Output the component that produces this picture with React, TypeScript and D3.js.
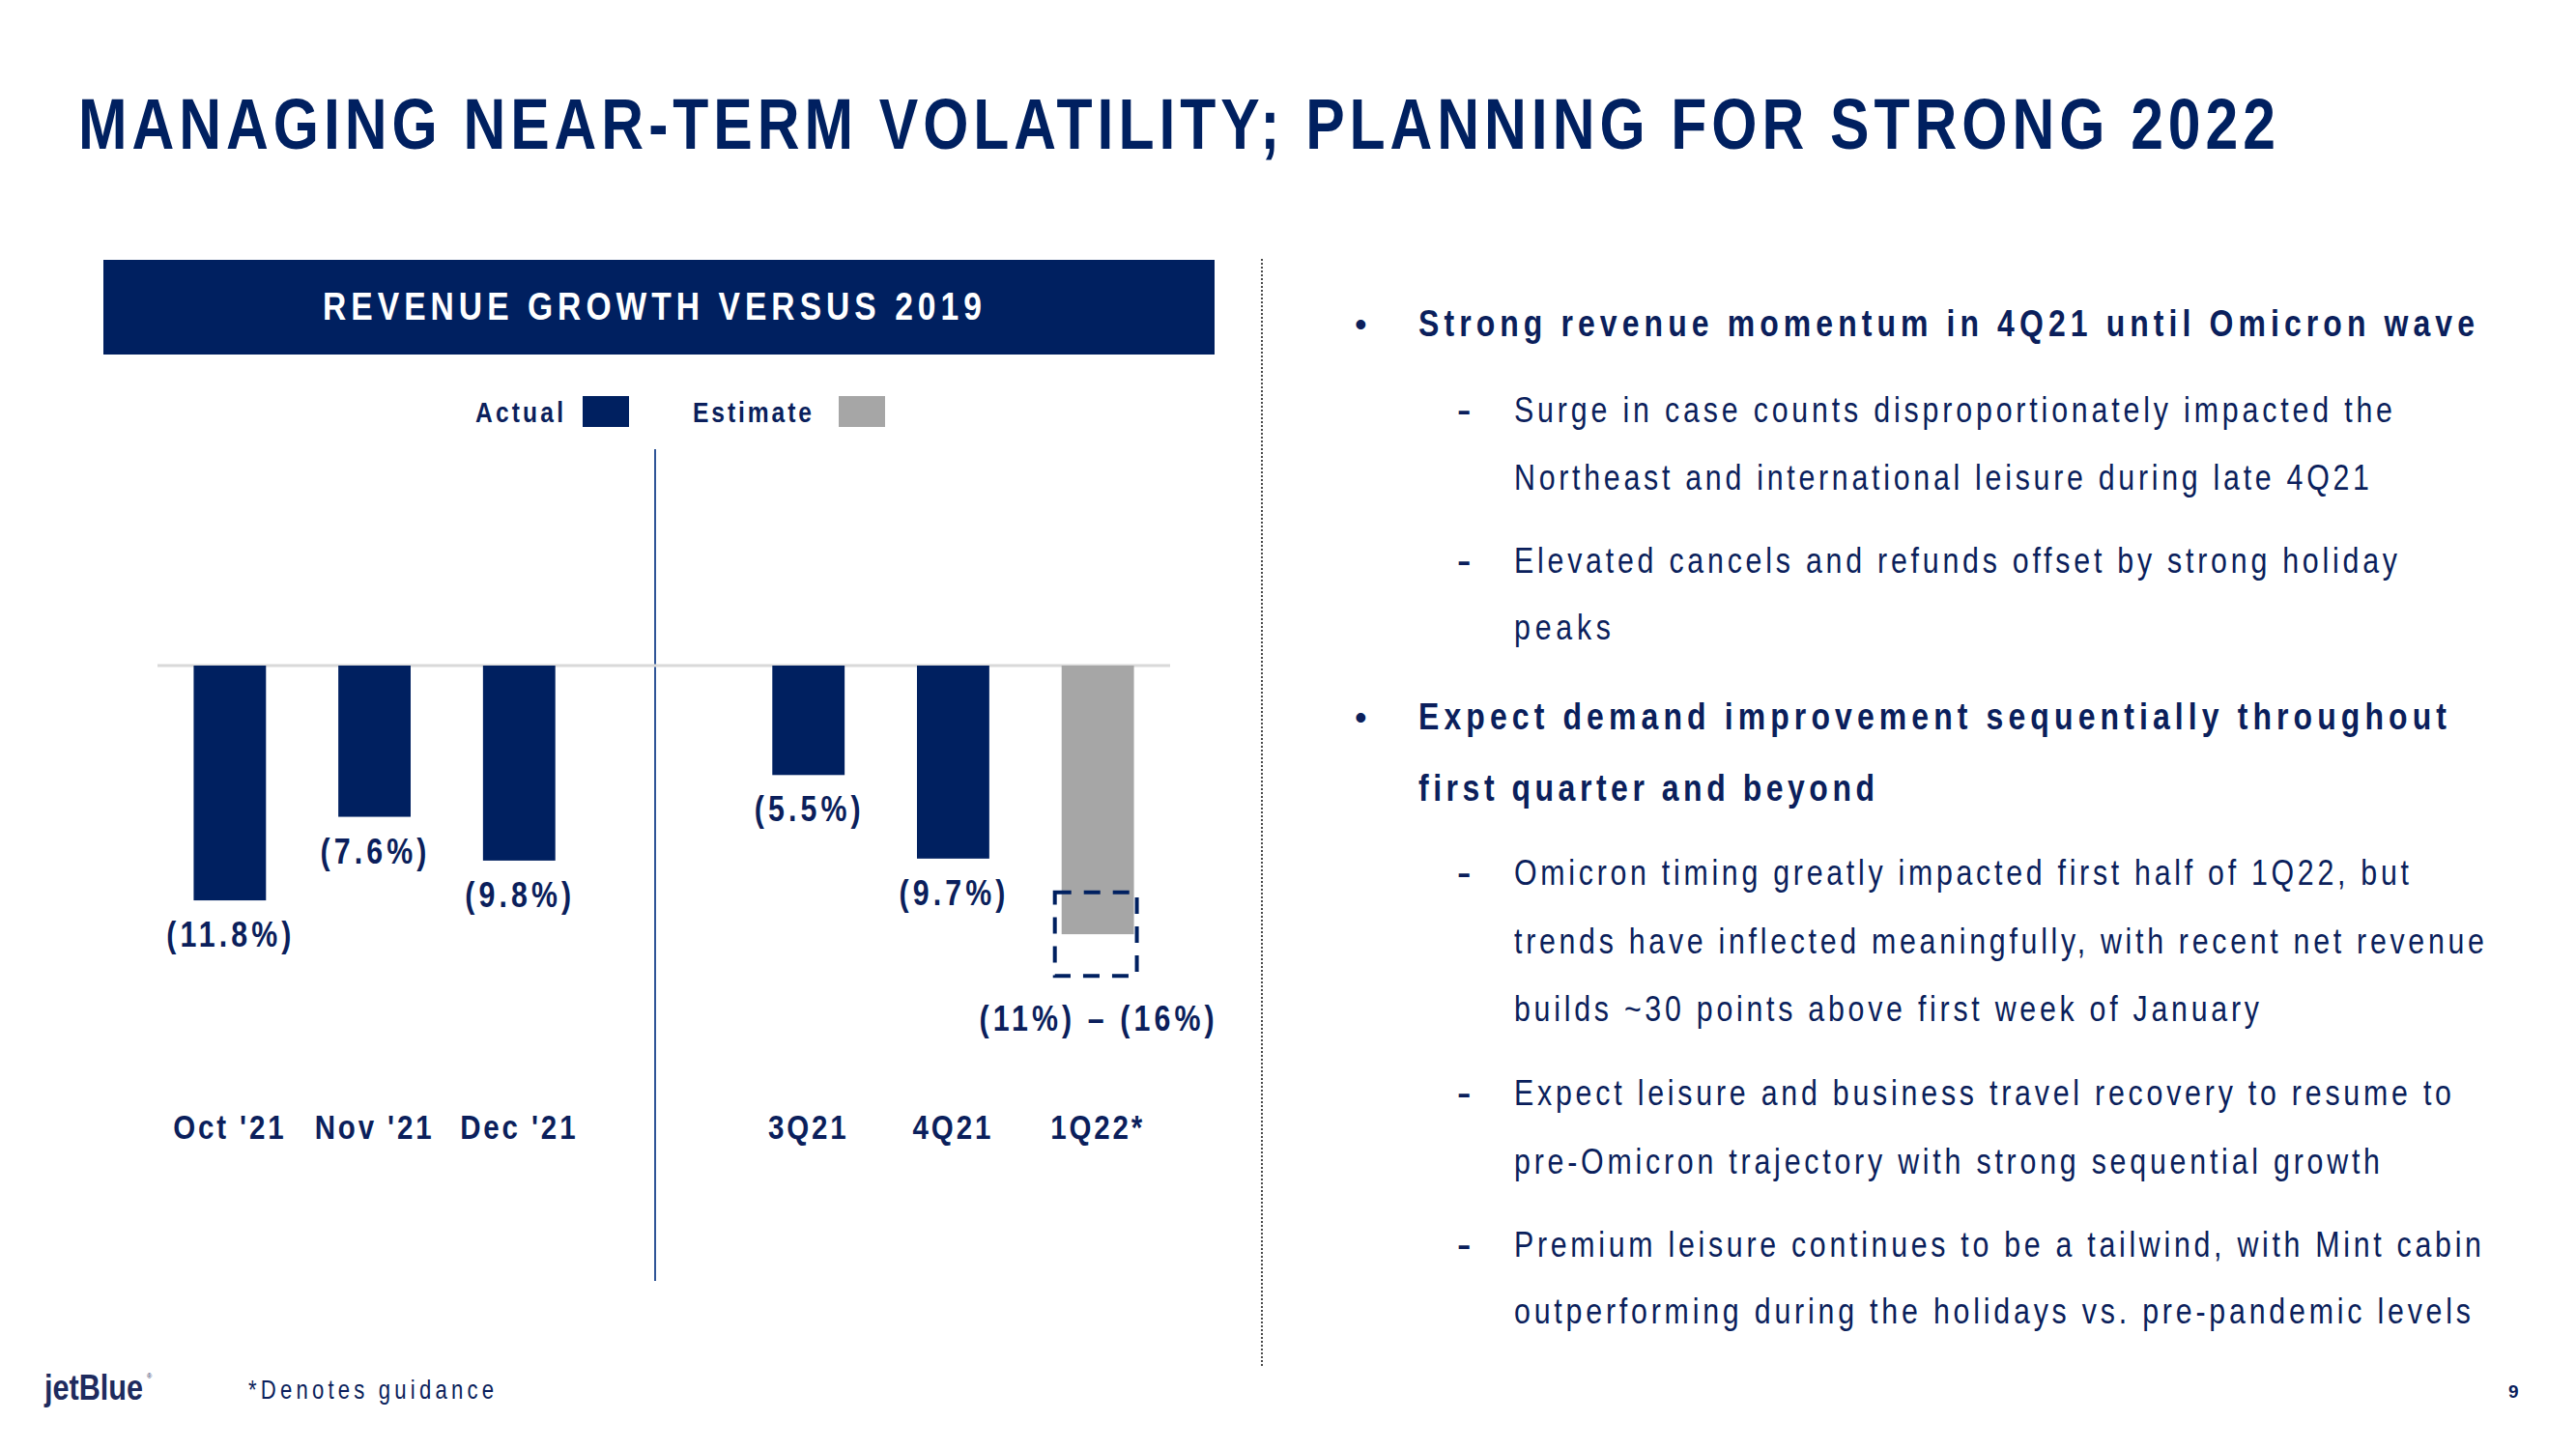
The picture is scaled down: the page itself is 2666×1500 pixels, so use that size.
import React from 'react';
import * as d3 from 'd3';

// ---------- data ----------
const categories = ["Oct '21", "Nov '21", "Dec '21", "3Q21", "4Q21", "1Q22*"];
const values = [-11.8, -7.6, -9.8, -5.5, -9.7, -13.5];
const valueLabels = ["(11.8%)", "(7.6%)", "(9.8%)", "(5.5%)", "(9.7%)", "(11%) – (16%)"];
const seriesOf = ["Actual", "Actual", "Actual", "Actual", "Actual", "Estimate"];
const legendSeries = ["Actual", "Estimate"];
const guidanceRange = [-11.4, -15.6];
const gapAfter = "Dec '21";

const title = "MANAGING NEAR-TERM VOLATILITY; PLANNING FOR STRONG 2022";
const chartTitle = "REVENUE GROWTH VERSUS 2019";

const bulletBlocks = [
  { level: 0, lines: ["Strong revenue momentum in 4Q21 until Omicron wave"] },
  { level: 1, lines: ["Surge in case counts disproportionately impacted the", "Northeast and international leisure during late 4Q21"] },
  { level: 1, lines: ["Elevated cancels and refunds offset by strong holiday", "peaks"] },
  { level: 0, lines: ["Expect demand improvement sequentially throughout", "first quarter and beyond"] },
  { level: 1, lines: ["Omicron timing greatly impacted first half of 1Q22, but", "trends have inflected meaningfully, with recent net revenue", "builds ~30 points above first week of January"] },
  { level: 1, lines: ["Expect leisure and business travel recovery to resume to", "pre-Omicron trajectory with strong sequential growth"] },
  { level: 1, lines: ["Premium leisure continues to be a tailwind, with Mint cabin", "outperforming during the holidays vs. pre-pandemic levels"] },
];

// ---------- layout ----------
const FONT = "'Liberation Sans', Arial, sans-serif";
const NAVY = "#002060";
const TEXT = "#0B1F5C";
const GRAY = "#A6A6A6";
const K = 0.82; // horizontal condensation of the typeface
const colorOf: Record<string, string> = { Actual: NAVY, Estimate: GRAY };

const lineBaselines = [[348], [437, 507], [593, 662], [755, 829], [916, 987, 1057], [1144, 1215], [1301, 1370]];
const lineWidths = [[1093], [909, 885], [914, 100], [1064, 472], [926, 1004, 771], [970, 896], [1001, 990]];

type CTProps = {
  x: number; y: number; w?: number; size: number; bold?: boolean; fill?: string;
  anchor?: 'start' | 'middle' | 'end'; ls?: number; children: React.ReactNode;
};
function CText({ x, y, w, size, bold, fill = TEXT, anchor = 'start', ls, children }: CTProps) {
  return (
    <g transform={`translate(${x},${y}) scale(${K},1)`}>
      <text x={0} y={0} fontSize={size} fontWeight={bold ? 'bold' : 'normal'} fill={fill} textAnchor={anchor}
        letterSpacing={ls}
        {...(w ? { textLength: w / K, lengthAdjust: 'spacing' } : {})}>{children}</text>
    </g>
  );
}

export default function App() {
  const slots = [...categories];
  slots.splice(slots.indexOf(gapAfter) + 1, 0, "__gap__");
  const x = d3.scaleBand<string>().domain(slots).range([163, 1211]).paddingInner(0.5).paddingOuter(0.25);
  const y = d3.scaleLinear().domain([0, -20]).range([689, 689 + 412]);
  const bw = x.bandwidth();
  const dividerX = (x("__gap__") as number) + bw * 0.38;

  return (
    <svg width={2666} height={1500} style={{ position: 'absolute', left: 0, top: 0, background: '#fff' }} fontFamily={FONT}>
      <rect x={0} y={0} width={2666} height={1500} fill="#fff" />
      {/* title */}
      <CText x={81} y={154} w={2274} size={74} bold fill={NAVY}>{title}</CText>

      {/* chart header */}
      <rect x={107} y={269} width={1150} height={98} fill={NAVY} />
      <CText x={334} y={331} w={682} size={41} bold fill="#fff">{chartTitle}</CText>

      {/* legend */}
      {legendSeries.map((s, i) => {
        const tx = [492, 717][i];
        const tl = [91, 123][i];
        const bx = [603, 868][i];
        return (
          <g key={s}>
            <CText x={tx} y={437} w={tl} size={30} bold>{s}</CText>
            <rect x={bx} y={410} width={48} height={32} fill={colorOf[s]} />
          </g>
        );
      })}

      {/* divider */}
      <line x1={dividerX} x2={dividerX} y1={465} y2={1326} stroke="#2F5597" strokeWidth={2} />

      {/* baseline */}
      <line x1={163} x2={1211} y1={y(0)} y2={y(0)} stroke="#D9D9D9" strokeWidth={3} />

      {/* bars */}
      {categories.map((c, i) => (
        <rect key={c} x={x(c)} y={y(0)} width={bw} height={y(values[i]) - y(0)} fill={colorOf[seriesOf[i]]} />
      ))}

      {/* guidance range box */}
      {(() => {
        const c = categories[categories.length - 1];
        const x0 = (x(c) as number) - 7;
        return (
          <rect x={x0} y={y(guidanceRange[0])} width={bw + 10} height={y(guidanceRange[1]) - y(guidanceRange[0])}
            fill="none" stroke={NAVY} strokeWidth={4} strokeDasharray="17 13" />
        );
      })()}

      {/* value labels */}
      {categories.map((c, i) => {
        const isRange = i === categories.length - 1;
        const by = isRange ? y(guidanceRange[1]) + 57 : y(values[i]) + 48;
        return (
          <CText key={c} x={(x(c) as number) + bw / 2 + 1} y={by} anchor="middle" size={37} bold ls={5}>{valueLabels[i]}</CText>
        );
      })}

      {/* category labels */}
      {categories.map((c) => (
        <CText key={c} x={(x(c) as number) + bw / 2} y={1179} anchor="middle" size={36} bold ls={3.5}>{c}</CText>
      ))}

      {/* separator */}
      <line x1={1306} x2={1306} y1={268} y2={1416} stroke="#4A4A4A" strokeWidth={2} strokeDasharray="2 2" />

      {/* bullets */}
      {bulletBlocks.map((b, bi) => (
        <g key={bi}>
          {b.level === 0 ? (
            <text x={1402} y={lineBaselines[bi][0]} fontSize={36} fill={TEXT}>•</text>
          ) : (
            <text x={1509} y={lineBaselines[bi][0]} fontSize={37} fontWeight="bold" fill={TEXT} transform={`translate(${1509 * (1 - 0.6)},0) scale(0.6,1)`}>–</text>
          )}
          {b.lines.map((l, li) => (
            <CText key={li} x={b.level === 0 ? 1468 : 1567} y={lineBaselines[bi][li]} size={b.level === 0 ? 39 : 37}
              bold={b.level === 0} w={lineWidths[bi][li]}>{l}</CText>
          ))}
        </g>
      ))}

      {/* footer */}
      <text x={46} y={1449} fontSize={37} fontWeight="bold" fill="#1E2B5E" textLength={102} lengthAdjust="spacingAndGlyphs">jetBlue</text>
      <text x={152} y={1427} fontSize={7} fill="#1E2B5E">®</text>
      <CText x={257} y={1448} w={254} size={27}>*Denotes guidance</CText>
      <text x={2596} y={1447} fontSize={19} fontWeight="bold" fill={TEXT}>9</text>
    </svg>
  );
}
